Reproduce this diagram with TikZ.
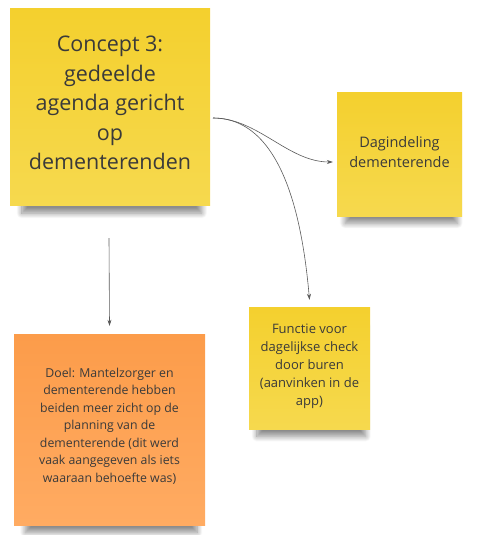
\documentclass[tikz,border=0pt]{standalone}
\usepackage{fontspec}
\setmainfont{Open Sans}
\usetikzlibrary{arrows.meta,shadows.blur}
\definecolor{noteyellow}{HTML}{F4D02E}
\definecolor{noteyellowlight}{HTML}{F6D94E}
\definecolor{noteorange}{HTML}{FC9C4A}
\definecolor{noteorangelight}{HTML}{FFAB62}
\definecolor{notetext}{HTML}{3A3A3A}
\definecolor{linegray}{HTML}{5A5A5A}

\begin{document}
\begin{tikzpicture}[x=1pt,y=-1pt]
		\tikzset{
			basefont/.style = {font = \fontsize{13}{18}\selectfont, text = notetext},
			note/.style = {basefont, align = center, inner sep = 0pt,
				blur shadow = {shadow xshift = 2pt, shadow yshift = -#1, shadow scale = 0.9,
					shadow opacity = 45, shadow blur radius = 6pt, shadow blur steps = 12}},
			ynote/.style = {note = #1, top color = noteyellow, bottom color = noteyellowlight},
			onote/.style = {note = #1, top color = noteorange, bottom color = noteorangelight},
			conn/.style = {draw = linegray, line width = 0.6pt, -{Stealth[length = 6pt, width = 4pt]}},
		};

		\useasboundingbox (0,0) rectangle (483,535);

		\node[ynote = 20pt, minimum width = 200pt, minimum height = 196pt] (concept) at (110,107) {};
		\node[basefont, font = \fontsize{21.5}{29.5}\selectfont, align = center] (concept-label) at (110,103)
			{Concept 3:\\gedeelde\\agenda gericht\\op\\dementerenden};

		\node[ynote = 15pt, minimum width = 125pt, minimum height = 124pt] (dag) at (399.5,154) {};
		\node[basefont, font = \fontsize{14.5}{20}\selectfont, align = center] (dag-label) at (399.5,152)
			{Dagindeling\\dementerende};

		\node[ynote = 15pt, minimum width = 121pt, minimum height = 122pt] (check) at (309.5,368) {};
		\node[basefont, align = center] (check-label) at (309.5,366)
			{Functie voor\\dagelijkse check\\door buren\\(aanvinken in de\\app)};

		\node[onote = 19pt, minimum width = 191pt, minimum height = 191pt] (doel) at (109.5,429.5) {};
		\node[basefont, font = \fontsize{12.3}{17.5}\selectfont, align = center] (doel-label) at (109.5,426)
			{Doel: Mantelzorger en\\dementerende hebben\\beiden meer zicht op de\\planning van de\\dementerende (dit werd\\vaak aangegeven als iets\\waaraan behoefte was)};

		\coordinate (fork) at (213,118);
		\coordinate (down) at (109,238);

		\draw[conn] (fork) to[out=0, in=180, looseness=0.9] ([xshift=-4pt,yshift=-8pt]dag.west);
		\draw[conn] (fork) to[out=0, in=95, looseness=0.9] ([yshift=7pt]check.north);
		\draw[conn] (down) -- ([yshift=8pt]doel.north);
	\end{tikzpicture}
\end{document}
